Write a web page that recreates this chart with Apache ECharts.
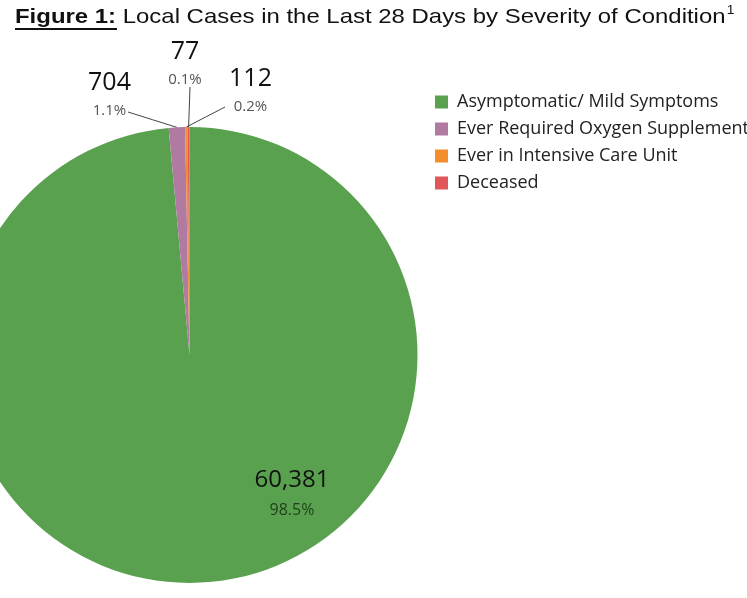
<!DOCTYPE html>
<html>
<head>
<meta charset="utf-8">
<script src="https://cdn.jsdelivr.net/npm/echarts@6/dist/echarts.min.js"></script>
<style>
html,body{margin:0;padding:0;background:#fff;}
#chart{width:747px;height:598px;}
</style>
</head>
<body>
<div id="chart"></div>
<script>
// ---- data ----
var categories = ['Asymptomatic/ Mild Symptoms', 'Ever Required Oxygen Supplementation', 'Ever in Intensive Care Unit', 'Deceased'];
var caseCounts = [60381, 704, 112, 77];
var colors = ['#59A14F', '#B07AA1', '#F28E2B', '#E15759'];
var titleBold = 'Figure 1:';
var titleText = 'Local Cases in the Last 28 Days by Severity of Condition';
var titleSup = '1';

// label placement (offsets from pie centre) – styling only
var labelOffsets = [
  { dx: 102.5, dy: 140 },
  { dx: -80, dy: -259.5, end: [-61.5, -243] },
  { dx: 61, dy: -263.5, end: [35.5, -248] },
  { dx: -4.5, dy: -290, end: [0.5, -268] }
];
var CX = 189.5, CY = 355, R = 228;

var chart = echarts.init(document.getElementById('chart'), null, { renderer: 'canvas' });

var total = caseCounts.reduce(function (a, b) { return a + b; }, 0);

var pieData = categories.map(function (name, i) {
  var big = i === 0;
  return {
    name: name,
    value: caseCounts[i],
    itemStyle: { color: colors[i] },
    label: {
      rich: big ? {
        n: { fontSize: 24, lineHeight: 30, color: '#111', fontFamily: 'Open Sans' },
        p: { fontSize: 16, lineHeight: 29, color: '#1f3f1c', fontFamily: 'Open Sans' }
      } : {
        n: { fontSize: 25, lineHeight: 30, color: '#111', fontFamily: 'Open Sans' },
        p: { fontSize: 15, lineHeight: 26, color: '#555', fontFamily: 'Open Sans' }
      }
    },
    labelLine: { show: !big }
  };
});

var option = {
  backgroundColor: '#fff',
  animation: false,
  graphic: [{
    type: 'text',
    x: 15,
    y: 17,
    scaleX: 1.14,
    scaleY: 1,
    style: {
      text: '{b|' + titleBold + '} ' + titleText + '{s|' + titleSup + '}',
      fontFamily: 'Liberation Sans',
      fontSize: 21,
      fill: '#111',
      verticalAlign: 'middle',
      rich: {
        b: { fontFamily: 'Liberation Sans', fontSize: 21, fontWeight: 'bold', fill: '#111', lineHeight: 24 },
        t: { fontFamily: 'Liberation Sans', fontSize: 21, fill: '#111', lineHeight: 24 },
        s: { fontFamily: 'Liberation Sans', fontSize: 12, fill: '#111', verticalAlign: 'top', lineHeight: 24, padding: [0, 0, 8, 1] }
      }
    }
  }, {
    type: 'rect',
    shape: { x: 15, y: 28, width: 102, height: 2 },
    style: { fill: '#111' }
  }],
  legend: {
    orient: 'vertical',
    left: 435,
    top: 92,
    padding: 0,
    itemWidth: 13,
    itemHeight: 13,
    itemGap: 7,
    icon: 'rect',
    data: categories,
    textStyle: { fontFamily: 'Open Sans', fontSize: 18, color: '#222', lineHeight: 20, padding: [0, 0, 0, 4] }
  },
  series: [{
    type: 'pie',
    center: [CX, CY],
    radius: R,
    startAngle: 90,
    clockwise: true,
    avoidLabelOverlap: false,
    label: {
      show: true,
      position: 'outside',
      formatter: function (p) {
        return '{n|' + p.value.toLocaleString('en-US') + '}\n{p|' + (p.value / total * 100).toFixed(1) + '%}';
      }
    },
    labelLine: { show: true, lineStyle: { color: '#444', width: 1 } },
    labelLayout: function (params) {
      var o = labelOffsets[params.dataIndex];
      var res = { x: CX + o.dx, y: CY + o.dy, align: 'center', verticalAlign: 'middle' };
      if (o.end && params.labelLinePoints && params.labelLinePoints.length) {
        var s = params.labelLinePoints[0];
        var e = [CX + o.end[0], CY + o.end[1]];
        res.labelLinePoints = [s, [(s[0] + e[0]) / 2, (s[1] + e[1]) / 2], e];
      }
      return res;
    },
    data: pieData
  }]
};

chart.setOption(option);
</script>
</body>
</html>
